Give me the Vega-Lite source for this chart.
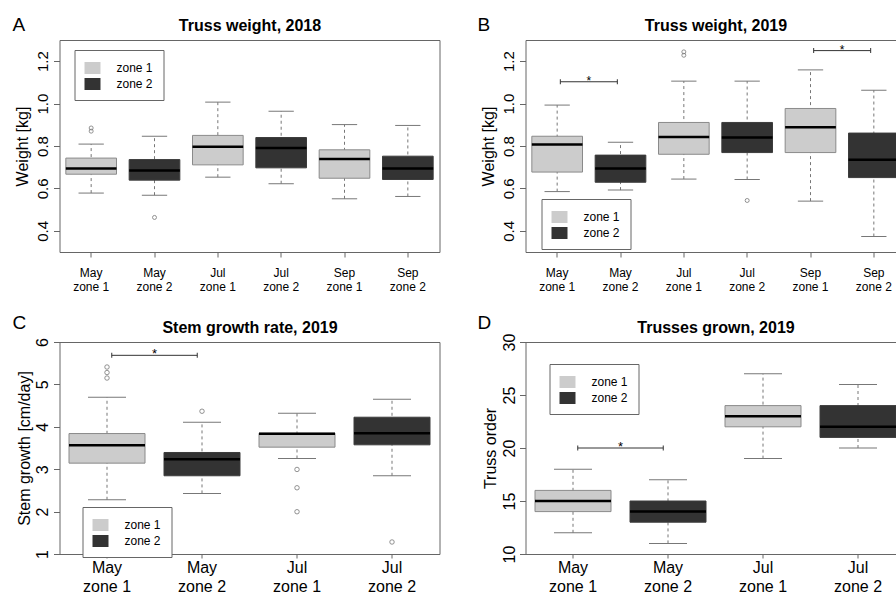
{
"$schema": "https://vega.github.io/schema/vega-lite/v6.json",
"background": "white",
"padding": {"left": 11.5, "top": 15, "right": 0, "bottom": 0},
"datasets": {
"boxes": [
{"panel":"A","grp":"May zone 1","zone":"zone 1","lo":0.578,"q1":0.667,"med":0.694,"q3":0.743,"hi":0.809},
{"panel":"A","grp":"May zone 2","zone":"zone 2","lo":0.568,"q1":0.639,"med":0.684,"q3":0.736,"hi":0.846},
{"panel":"A","grp":"Jul zone 1","zone":"zone 1","lo":0.653,"q1":0.711,"med":0.796,"q3":0.850,"hi":1.007},
{"panel":"A","grp":"Jul zone 2","zone":"zone 2","lo":0.622,"q1":0.697,"med":0.791,"q3":0.840,"hi":0.964},
{"panel":"A","grp":"Sep zone 1","zone":"zone 1","lo":0.551,"q1":0.648,"med":0.739,"q3":0.782,"hi":0.901},
{"panel":"A","grp":"Sep zone 2","zone":"zone 2","lo":0.562,"q1":0.642,"med":0.694,"q3":0.752,"hi":0.897},
{"panel":"B","grp":"May zone 1","zone":"zone 1","lo":0.585,"q1":0.677,"med":0.807,"q3":0.846,"hi":0.993},
{"panel":"B","grp":"May zone 2","zone":"zone 2","lo":0.592,"q1":0.629,"med":0.694,"q3":0.757,"hi":0.818},
{"panel":"B","grp":"Jul zone 1","zone":"zone 1","lo":0.644,"q1":0.761,"med":0.843,"q3":0.911,"hi":1.106},
{"panel":"B","grp":"Jul zone 2","zone":"zone 2","lo":0.642,"q1":0.769,"med":0.840,"q3":0.911,"hi":1.106},
{"panel":"B","grp":"Sep zone 1","zone":"zone 1","lo":0.540,"q1":0.769,"med":0.889,"q3":0.977,"hi":1.159},
{"panel":"B","grp":"Sep zone 2","zone":"zone 2","lo":0.373,"q1":0.651,"med":0.735,"q3":0.861,"hi":1.063},
{"panel":"C","grp":"May zone 1","zone":"zone 1","lo":2.279,"q1":3.143,"med":3.567,"q3":3.841,"hi":4.697},
{"panel":"C","grp":"May zone 2","zone":"zone 2","lo":2.429,"q1":2.845,"med":3.237,"q3":3.394,"hi":4.108},
{"panel":"C","grp":"Jul zone 1","zone":"zone 1","lo":3.253,"q1":3.520,"med":3.834,"q3":3.849,"hi":4.320},
{"panel":"C","grp":"Jul zone 2","zone":"zone 2","lo":2.845,"q1":3.575,"med":3.849,"q3":4.226,"hi":4.650},
{"panel":"D","grp":"May zone 1","zone":"zone 1","lo":12,"q1":14,"med":15,"q3":16,"hi":18},
{"panel":"D","grp":"May zone 2","zone":"zone 2","lo":11,"q1":13,"med":14,"q3":15,"hi":17},
{"panel":"D","grp":"Jul zone 1","zone":"zone 1","lo":19,"q1":22,"med":23,"q3":24,"hi":27},
{"panel":"D","grp":"Jul zone 2","zone":"zone 2","lo":20,"q1":21,"med":22,"q3":24,"hi":26}
],
"outliers": [
{"panel":"A","grp":"May zone 1","val":0.885},
{"panel":"A","grp":"May zone 1","val":0.870},
{"panel":"A","grp":"May zone 2","val":0.463},
{"panel":"B","grp":"Jul zone 1","val":1.244},
{"panel":"B","grp":"Jul zone 1","val":1.228},
{"panel":"B","grp":"Jul zone 2","val":0.543},
{"panel":"C","grp":"May zone 1","val":5.41},
{"panel":"C","grp":"May zone 1","val":5.28},
{"panel":"C","grp":"May zone 1","val":5.15},
{"panel":"C","grp":"May zone 2","val":4.367},
{"panel":"C","grp":"Jul zone 1","val":2.994},
{"panel":"C","grp":"Jul zone 1","val":2.562},
{"panel":"C","grp":"Jul zone 1","val":1.997},
{"panel":"C","grp":"Jul zone 2","val":1.283}
],
"sig": [
{"panel":"B","g1":"May zone 1","g2":"May zone 2","val":1.103},
{"panel":"B","g1":"Sep zone 1","g2":"Sep zone 2","val":1.250},
{"panel":"C","g1":"May zone 1","g2":"May zone 2","val":5.686},
{"panel":"D","g1":"May zone 1","g2":"May zone 2","val":20}
]
},
"columns": 2,
"spacing": {"row": 90, "column": 86},
"bounds": "flush",
"resolve": {"scale": {"fill": "independent", "stroke": "independent"}, "legend": {"fill": "independent", "stroke": "independent"}},
"concat": [
{
"width": 380, "height": 212,
"resolve": {"axis": {"x": "independent", "y": "independent"}},
"layer": [
{"data":{"name":"boxes"},"transform":[{"filter":"datum.panel==='A'"}],
 "mark":{"type":"rule","color":"#777","strokeDash":[3,3],"strokeWidth":1},
 "encoding":{"x":{"field":"grp","type":"nominal","scale":{"domain":["May zone 1","May zone 2","Jul zone 1","Jul zone 2","Sep zone 1","Sep zone 2"],"paddingInner":0,"paddingOuter":0},"axis":null},
  "y":{"field":"lo","type":"quantitative","scale":{"domain":[0.3,1.3],"nice":false,"zero":false},"axis":null},"y2":{"field":"hi"}}},
{"data":{"name":"boxes"},"transform":[{"filter":"datum.panel==='A'"}],
 "mark":{"type":"tick","color":"#777","size":25.3,"thickness":1,"opacity":1},
 "encoding":{"x":{"field":"grp","type":"nominal","scale":{"domain":["May zone 1","May zone 2","Jul zone 1","Jul zone 2","Sep zone 1","Sep zone 2"],"paddingInner":0,"paddingOuter":0},"axis":null},
  "y":{"field":"hi","type":"quantitative","scale":{"domain":[0.3,1.3],"nice":false,"zero":false},"axis":null}}},
{"data":{"name":"boxes"},"transform":[{"filter":"datum.panel==='A'"}],
 "mark":{"type":"tick","color":"#777","size":25.3,"thickness":1,"opacity":1},
 "encoding":{"x":{"field":"grp","type":"nominal","scale":{"domain":["May zone 1","May zone 2","Jul zone 1","Jul zone 2","Sep zone 1","Sep zone 2"],"paddingInner":0,"paddingOuter":0},"axis":null},
  "y":{"field":"lo","type":"quantitative","scale":{"domain":[0.3,1.3],"nice":false,"zero":false},"axis":null}}},
{"data":{"name":"boxes"},"transform":[{"filter":"datum.panel==='A'"}],
 "mark":{"type":"bar","width":{"band":0.8},"strokeWidth":1},
 "encoding":{
  "x":{"field":"grp","type":"nominal","scale":{"domain":["May zone 1","May zone 2","Jul zone 1","Jul zone 2","Sep zone 1","Sep zone 2"],"paddingInner":0,"paddingOuter":0},
   "axis":{"orient":"bottom","title":null,"labelExpr":"[slice(datum.value,0,3), slice(datum.value,4)]","labelAngle":0,"labelAlign":"center","labelBaseline":"top","labelFontSize":12,"labelLineHeight":14,"labelPadding":10,"tickSize":5}},
  "y":{"field":"q1","type":"quantitative","scale":{"domain":[0.3,1.3],"nice":false,"zero":false},
   "axis":{"orient":"left","title":"Weight [kg]","values":[0.4,0.6,0.8,1.0,1.2],"format":".1f","labelAngle":-90,"labelAlign":"center","labelBaseline":"alphabetic","labelFontSize":15,"labelPadding":6,"tickSize":6,"titleFontSize":16,"titleAngle":-90,"titleAlign":"center","titleBaseline":"alphabetic","titleX":-32,"titleY":106}},
  "y2":{"field":"q3"},
  "fill":{"field":"zone","type":"nominal","scale":{"domain":["zone 1","zone 2"],"range":["#cccccc","#333333"]},"legend":{"title":null,"legendX":15,"legendY":10}},
  "stroke":{"field":"zone","type":"nominal","scale":{"domain":["zone 1","zone 2"],"range":["#8a8a8a","#3c3c3c"]},"legend":null}}},
{"data":{"name":"boxes"},"transform":[{"filter":"datum.panel==='A'"}],
 "mark":{"type":"tick","color":"#000","size":50.7,"thickness":2.5,"opacity":1},
 "encoding":{
  "x":{"field":"grp","type":"nominal","scale":{"domain":["May zone 1","May zone 2","Jul zone 1","Jul zone 2","Sep zone 1","Sep zone 2"],"paddingInner":0,"paddingOuter":0},
   "axis":{"orient":"top","title":"Truss weight, 2018","labels":false,"ticks":false,"titleFontSize":16,"titleFontWeight":"bold","titleX":190,"titleY":-9.5,"titleAlign":"center","titleBaseline":"alphabetic"}},
  "y":{"field":"med","type":"quantitative","scale":{"domain":[0.3,1.3],"nice":false,"zero":false},
   "axis":{"orient":"right","title":"A","labels":false,"ticks":false,"titleFontSize":19,"titleAngle":0,"titleAlign":"left","titleBaseline":"alphabetic","titleX":-427.5,"titleY":-9.3}}}},
{"data":{"name":"outliers"},"transform":[{"filter":"datum.panel==='A'"}],
 "mark":{"type":"point","shape":"circle","filled":false,"size":16,"color":"#777","strokeWidth":0.8,"opacity":1},
 "encoding":{"x":{"field":"grp","type":"nominal","scale":{"domain":["May zone 1","May zone 2","Jul zone 1","Jul zone 2","Sep zone 1","Sep zone 2"],"paddingInner":0,"paddingOuter":0},"axis":null},
  "y":{"field":"val","type":"quantitative","scale":{"domain":[0.3,1.3],"nice":false,"zero":false},"axis":null}}}
]
},
{
"width": 380, "height": 212,
"resolve": {"axis": {"x": "independent", "y": "independent"}},
"layer": [
{"data":{"name":"boxes"},"transform":[{"filter":"datum.panel==='B'"}],
 "mark":{"type":"rule","color":"#777","strokeDash":[3,3],"strokeWidth":1},
 "encoding":{"x":{"field":"grp","type":"nominal","scale":{"domain":["May zone 1","May zone 2","Jul zone 1","Jul zone 2","Sep zone 1","Sep zone 2"],"paddingInner":0,"paddingOuter":0},"axis":null},
  "y":{"field":"lo","type":"quantitative","scale":{"domain":[0.3,1.3],"nice":false,"zero":false},"axis":null},"y2":{"field":"hi"}}},
{"data":{"name":"boxes"},"transform":[{"filter":"datum.panel==='B'"}],
 "mark":{"type":"tick","color":"#777","size":25.3,"thickness":1,"opacity":1},
 "encoding":{"x":{"field":"grp","type":"nominal","scale":{"domain":["May zone 1","May zone 2","Jul zone 1","Jul zone 2","Sep zone 1","Sep zone 2"],"paddingInner":0,"paddingOuter":0},"axis":null},
  "y":{"field":"hi","type":"quantitative","scale":{"domain":[0.3,1.3],"nice":false,"zero":false},"axis":null}}},
{"data":{"name":"boxes"},"transform":[{"filter":"datum.panel==='B'"}],
 "mark":{"type":"tick","color":"#777","size":25.3,"thickness":1,"opacity":1},
 "encoding":{"x":{"field":"grp","type":"nominal","scale":{"domain":["May zone 1","May zone 2","Jul zone 1","Jul zone 2","Sep zone 1","Sep zone 2"],"paddingInner":0,"paddingOuter":0},"axis":null},
  "y":{"field":"lo","type":"quantitative","scale":{"domain":[0.3,1.3],"nice":false,"zero":false},"axis":null}}},
{"data":{"name":"boxes"},"transform":[{"filter":"datum.panel==='B'"}],
 "mark":{"type":"bar","width":{"band":0.8},"strokeWidth":1},
 "encoding":{
  "x":{"field":"grp","type":"nominal","scale":{"domain":["May zone 1","May zone 2","Jul zone 1","Jul zone 2","Sep zone 1","Sep zone 2"],"paddingInner":0,"paddingOuter":0},
   "axis":{"orient":"bottom","title":null,"labelExpr":"[slice(datum.value,0,3), slice(datum.value,4)]","labelAngle":0,"labelAlign":"center","labelBaseline":"top","labelFontSize":12,"labelLineHeight":14,"labelPadding":10,"tickSize":5}},
  "y":{"field":"q1","type":"quantitative","scale":{"domain":[0.3,1.3],"nice":false,"zero":false},
   "axis":{"orient":"left","title":"Weight [kg]","values":[0.4,0.6,0.8,1.0,1.2],"format":".1f","labelAngle":-90,"labelAlign":"center","labelBaseline":"alphabetic","labelFontSize":15,"labelPadding":6,"tickSize":6,"titleFontSize":16,"titleAngle":-90,"titleAlign":"center","titleBaseline":"alphabetic","titleX":-32,"titleY":106}},
  "y2":{"field":"q3"},
  "fill":{"field":"zone","type":"nominal","scale":{"domain":["zone 1","zone 2"],"range":["#cccccc","#333333"]},"legend":{"title":null,"legendX":16,"legendY":159}},
  "stroke":{"field":"zone","type":"nominal","scale":{"domain":["zone 1","zone 2"],"range":["#8a8a8a","#3c3c3c"]},"legend":null}}},
{"data":{"name":"boxes"},"transform":[{"filter":"datum.panel==='B'"}],
 "mark":{"type":"tick","color":"#000","size":50.7,"thickness":2.5,"opacity":1},
 "encoding":{
  "x":{"field":"grp","type":"nominal","scale":{"domain":["May zone 1","May zone 2","Jul zone 1","Jul zone 2","Sep zone 1","Sep zone 2"],"paddingInner":0,"paddingOuter":0},
   "axis":{"orient":"top","title":"Truss weight, 2019","labels":false,"ticks":false,"titleFontSize":16,"titleFontWeight":"bold","titleX":190,"titleY":-9.5,"titleAlign":"center","titleBaseline":"alphabetic"}},
  "y":{"field":"med","type":"quantitative","scale":{"domain":[0.3,1.3],"nice":false,"zero":false},
   "axis":{"orient":"right","title":"B","labels":false,"ticks":false,"titleFontSize":19,"titleAngle":0,"titleAlign":"left","titleBaseline":"alphabetic","titleX":-428.5,"titleY":-9.3}}}},
{"data":{"name":"outliers"},"transform":[{"filter":"datum.panel==='B'"}],
 "mark":{"type":"point","shape":"circle","filled":false,"size":16,"color":"#777","strokeWidth":0.8,"opacity":1},
 "encoding":{"x":{"field":"grp","type":"nominal","scale":{"domain":["May zone 1","May zone 2","Jul zone 1","Jul zone 2","Sep zone 1","Sep zone 2"],"paddingInner":0,"paddingOuter":0},"axis":null},
  "y":{"field":"val","type":"quantitative","scale":{"domain":[0.3,1.3],"nice":false,"zero":false},"axis":null}}},
{"data":{"name":"sig"},"transform":[{"filter":"datum.panel==='B'"}],
 "mark":{"type":"rule","color":"#333","strokeWidth":1},
 "encoding":{"x":{"field":"g1","type":"nominal","bandPosition":0.55,"scale":{"domain":["May zone 1","May zone 2","Jul zone 1","Jul zone 2","Sep zone 1","Sep zone 2"],"paddingInner":0,"paddingOuter":0},"axis":null},
  "x2":{"field":"g2","bandPosition":0.45},
  "y":{"field":"val","type":"quantitative","scale":{"domain":[0.3,1.3],"nice":false,"zero":false},"axis":null}}},
{"data":{"name":"sig"},"transform":[{"filter":"datum.panel==='B'"}],
 "mark":{"type":"tick","orient":"vertical","color":"#333","size":5,"thickness":1,"opacity":1},
 "encoding":{"x":{"field":"g1","type":"nominal","bandPosition":0.55,"scale":{"domain":["May zone 1","May zone 2","Jul zone 1","Jul zone 2","Sep zone 1","Sep zone 2"],"paddingInner":0,"paddingOuter":0},"axis":null},
  "y":{"field":"val","type":"quantitative","scale":{"domain":[0.3,1.3],"nice":false,"zero":false},"axis":null}}},
{"data":{"name":"sig"},"transform":[{"filter":"datum.panel==='B'"}],
 "mark":{"type":"tick","orient":"vertical","color":"#333","size":5,"thickness":1,"opacity":1},
 "encoding":{"x":{"field":"g2","type":"nominal","bandPosition":0.45,"scale":{"domain":["May zone 1","May zone 2","Jul zone 1","Jul zone 2","Sep zone 1","Sep zone 2"],"paddingInner":0,"paddingOuter":0},"axis":null},
  "y":{"field":"val","type":"quantitative","scale":{"domain":[0.3,1.3],"nice":false,"zero":false},"axis":null}}},
{"data":{"name":"sig"},"transform":[{"filter":"datum.panel==='B'"}],
 "mark":{"type":"text","text":"*","fontSize":12,"baseline":"alphabetic","dy":3,"color":"#000"},
 "encoding":{"x":{"field":"g1","type":"nominal","bandPosition":1,"scale":{"domain":["May zone 1","May zone 2","Jul zone 1","Jul zone 2","Sep zone 1","Sep zone 2"],"paddingInner":0,"paddingOuter":0},"axis":null},
  "y":{"field":"val","type":"quantitative","scale":{"domain":[0.3,1.3],"nice":false,"zero":false},"axis":null}}}
]
},
{
"width": 380, "height": 212,
"resolve": {"axis": {"x": "independent", "y": "independent"}},
"layer": [
{"data":{"name":"boxes"},"transform":[{"filter":"datum.panel==='C'"}],
 "mark":{"type":"rule","color":"#777","strokeDash":[3,3],"strokeWidth":1},
 "encoding":{"x":{"field":"grp","type":"nominal","scale":{"domain":["May zone 1","May zone 2","Jul zone 1","Jul zone 2"],"paddingInner":0,"paddingOuter":0},"axis":null},
  "y":{"field":"lo","type":"quantitative","scale":{"domain":[1,6],"nice":false,"zero":false},"axis":null},"y2":{"field":"hi"}}},
{"data":{"name":"boxes"},"transform":[{"filter":"datum.panel==='C'"}],
 "mark":{"type":"tick","color":"#777","size":38,"thickness":1,"opacity":1},
 "encoding":{"x":{"field":"grp","type":"nominal","scale":{"domain":["May zone 1","May zone 2","Jul zone 1","Jul zone 2"],"paddingInner":0,"paddingOuter":0},"axis":null},
  "y":{"field":"hi","type":"quantitative","scale":{"domain":[1,6],"nice":false,"zero":false},"axis":null}}},
{"data":{"name":"boxes"},"transform":[{"filter":"datum.panel==='C'"}],
 "mark":{"type":"tick","color":"#777","size":38,"thickness":1,"opacity":1},
 "encoding":{"x":{"field":"grp","type":"nominal","scale":{"domain":["May zone 1","May zone 2","Jul zone 1","Jul zone 2"],"paddingInner":0,"paddingOuter":0},"axis":null},
  "y":{"field":"lo","type":"quantitative","scale":{"domain":[1,6],"nice":false,"zero":false},"axis":null}}},
{"data":{"name":"boxes"},"transform":[{"filter":"datum.panel==='C'"}],
 "mark":{"type":"bar","width":{"band":0.8},"strokeWidth":1},
 "encoding":{
  "x":{"field":"grp","type":"nominal","scale":{"domain":["May zone 1","May zone 2","Jul zone 1","Jul zone 2"],"paddingInner":0,"paddingOuter":0},
   "axis":{"orient":"bottom","title":null,"labelExpr":"[slice(datum.value,0,3), slice(datum.value,4)]","labelAngle":0,"labelAlign":"center","labelBaseline":"top","labelFontSize":16,"labelLineHeight":19,"labelPadding":1,"tickSize":4}},
  "y":{"field":"q1","type":"quantitative","scale":{"domain":[1,6],"nice":false,"zero":false},
   "axis":{"orient":"left","title":"Stem growth [cm/day]","values":[1,2,3,4,5,6],"format":"d","labelAngle":-90,"labelAlign":"center","labelBaseline":"alphabetic","labelFontSize":16,"labelPadding":6,"tickSize":6,"titleFontSize":16,"titleAngle":-90,"titleAlign":"center","titleBaseline":"alphabetic","titleX":-30,"titleY":106}},
  "y2":{"field":"q3"},
  "fill":{"field":"zone","type":"nominal","scale":{"domain":["zone 1","zone 2"],"range":["#cccccc","#333333"]},"legend":{"title":null,"legendX":23,"legendY":165}},
  "stroke":{"field":"zone","type":"nominal","scale":{"domain":["zone 1","zone 2"],"range":["#8a8a8a","#3c3c3c"]},"legend":null}}},
{"data":{"name":"boxes"},"transform":[{"filter":"datum.panel==='C'"}],
 "mark":{"type":"tick","color":"#000","size":76,"thickness":2.5,"opacity":1},
 "encoding":{
  "x":{"field":"grp","type":"nominal","scale":{"domain":["May zone 1","May zone 2","Jul zone 1","Jul zone 2"],"paddingInner":0,"paddingOuter":0},
   "axis":{"orient":"top","title":"Stem growth rate, 2019","labels":false,"ticks":false,"titleFontSize":16,"titleFontWeight":"bold","titleX":190,"titleY":-10,"titleAlign":"center","titleBaseline":"alphabetic"}},
  "y":{"field":"med","type":"quantitative","scale":{"domain":[1,6],"nice":false,"zero":false},
   "axis":{"orient":"right","title":"C","labels":false,"ticks":false,"titleFontSize":19,"titleAngle":0,"titleAlign":"left","titleBaseline":"alphabetic","titleX":-427.5,"titleY":-13.5}}}},
{"data":{"name":"outliers"},"transform":[{"filter":"datum.panel==='C'"}],
 "mark":{"type":"point","shape":"circle","filled":false,"size":20,"color":"#777","strokeWidth":0.8,"opacity":1},
 "encoding":{"x":{"field":"grp","type":"nominal","scale":{"domain":["May zone 1","May zone 2","Jul zone 1","Jul zone 2"],"paddingInner":0,"paddingOuter":0},"axis":null},
  "y":{"field":"val","type":"quantitative","scale":{"domain":[1,6],"nice":false,"zero":false},"axis":null}}},
{"data":{"name":"sig"},"transform":[{"filter":"datum.panel==='C'"}],
 "mark":{"type":"rule","color":"#333","strokeWidth":1},
 "encoding":{"x":{"field":"g1","type":"nominal","bandPosition":0.55,"scale":{"domain":["May zone 1","May zone 2","Jul zone 1","Jul zone 2"],"paddingInner":0,"paddingOuter":0},"axis":null},
  "x2":{"field":"g2","bandPosition":0.45},
  "y":{"field":"val","type":"quantitative","scale":{"domain":[1,6],"nice":false,"zero":false},"axis":null}}},
{"data":{"name":"sig"},"transform":[{"filter":"datum.panel==='C'"}],
 "mark":{"type":"tick","orient":"vertical","color":"#333","size":5,"thickness":1,"opacity":1},
 "encoding":{"x":{"field":"g1","type":"nominal","bandPosition":0.55,"scale":{"domain":["May zone 1","May zone 2","Jul zone 1","Jul zone 2"],"paddingInner":0,"paddingOuter":0},"axis":null},
  "y":{"field":"val","type":"quantitative","scale":{"domain":[1,6],"nice":false,"zero":false},"axis":null}}},
{"data":{"name":"sig"},"transform":[{"filter":"datum.panel==='C'"}],
 "mark":{"type":"tick","orient":"vertical","color":"#333","size":5,"thickness":1,"opacity":1},
 "encoding":{"x":{"field":"g2","type":"nominal","bandPosition":0.45,"scale":{"domain":["May zone 1","May zone 2","Jul zone 1","Jul zone 2"],"paddingInner":0,"paddingOuter":0},"axis":null},
  "y":{"field":"val","type":"quantitative","scale":{"domain":[1,6],"nice":false,"zero":false},"axis":null}}},
{"data":{"name":"sig"},"transform":[{"filter":"datum.panel==='C'"}],
 "mark":{"type":"text","text":"*","fontSize":13,"baseline":"alphabetic","dy":3,"color":"#000"},
 "encoding":{"x":{"field":"g1","type":"nominal","bandPosition":1,"scale":{"domain":["May zone 1","May zone 2","Jul zone 1","Jul zone 2"],"paddingInner":0,"paddingOuter":0},"axis":null},
  "y":{"field":"val","type":"quantitative","scale":{"domain":[1,6],"nice":false,"zero":false},"axis":null}}}
]
},
{
"width": 380, "height": 212,
"resolve": {"axis": {"x": "independent", "y": "independent"}},
"layer": [
{"data":{"name":"boxes"},"transform":[{"filter":"datum.panel==='D'"}],
 "mark":{"type":"rule","color":"#777","strokeDash":[3,3],"strokeWidth":1},
 "encoding":{"x":{"field":"grp","type":"nominal","scale":{"domain":["May zone 1","May zone 2","Jul zone 1","Jul zone 2"],"paddingInner":0,"paddingOuter":0},"axis":null},
  "y":{"field":"lo","type":"quantitative","scale":{"domain":[10,30],"nice":false,"zero":false},"axis":null},"y2":{"field":"hi"}}},
{"data":{"name":"boxes"},"transform":[{"filter":"datum.panel==='D'"}],
 "mark":{"type":"tick","color":"#777","size":38,"thickness":1,"opacity":1},
 "encoding":{"x":{"field":"grp","type":"nominal","scale":{"domain":["May zone 1","May zone 2","Jul zone 1","Jul zone 2"],"paddingInner":0,"paddingOuter":0},"axis":null},
  "y":{"field":"hi","type":"quantitative","scale":{"domain":[10,30],"nice":false,"zero":false},"axis":null}}},
{"data":{"name":"boxes"},"transform":[{"filter":"datum.panel==='D'"}],
 "mark":{"type":"tick","color":"#777","size":38,"thickness":1,"opacity":1},
 "encoding":{"x":{"field":"grp","type":"nominal","scale":{"domain":["May zone 1","May zone 2","Jul zone 1","Jul zone 2"],"paddingInner":0,"paddingOuter":0},"axis":null},
  "y":{"field":"lo","type":"quantitative","scale":{"domain":[10,30],"nice":false,"zero":false},"axis":null}}},
{"data":{"name":"boxes"},"transform":[{"filter":"datum.panel==='D'"}],
 "mark":{"type":"bar","width":{"band":0.8},"strokeWidth":1},
 "encoding":{
  "x":{"field":"grp","type":"nominal","scale":{"domain":["May zone 1","May zone 2","Jul zone 1","Jul zone 2"],"paddingInner":0,"paddingOuter":0},
   "axis":{"orient":"bottom","title":null,"labelExpr":"[slice(datum.value,0,3), slice(datum.value,4)]","labelAngle":0,"labelAlign":"center","labelBaseline":"top","labelFontSize":16,"labelLineHeight":19,"labelPadding":1,"tickSize":4}},
  "y":{"field":"q1","type":"quantitative","scale":{"domain":[10,30],"nice":false,"zero":false},
   "axis":{"orient":"left","title":"Truss order","values":[10,15,20,25,30],"format":"d","labelAngle":-90,"labelAlign":"center","labelBaseline":"alphabetic","labelFontSize":16,"labelPadding":5.5,"tickSize":6,"titleFontSize":16,"titleAngle":-90,"titleAlign":"center","titleBaseline":"alphabetic","titleX":-30.5,"titleY":106}},
  "y2":{"field":"q3"},
  "fill":{"field":"zone","type":"nominal","scale":{"domain":["zone 1","zone 2"],"range":["#cccccc","#333333"]},"legend":{"title":null,"legendX":24,"legendY":22}},
  "stroke":{"field":"zone","type":"nominal","scale":{"domain":["zone 1","zone 2"],"range":["#8a8a8a","#3c3c3c"]},"legend":null}}},
{"data":{"name":"boxes"},"transform":[{"filter":"datum.panel==='D'"}],
 "mark":{"type":"tick","color":"#000","size":76,"thickness":2.5,"opacity":1},
 "encoding":{
  "x":{"field":"grp","type":"nominal","scale":{"domain":["May zone 1","May zone 2","Jul zone 1","Jul zone 2"],"paddingInner":0,"paddingOuter":0},
   "axis":{"orient":"top","title":"Trusses grown, 2019","labels":false,"ticks":false,"titleFontSize":16,"titleFontWeight":"bold","titleX":190,"titleY":-10,"titleAlign":"center","titleBaseline":"alphabetic"}},
  "y":{"field":"med","type":"quantitative","scale":{"domain":[10,30],"nice":false,"zero":false},
   "axis":{"orient":"right","title":"D","labels":false,"ticks":false,"titleFontSize":19,"titleAngle":0,"titleAlign":"left","titleBaseline":"alphabetic","titleX":-428.5,"titleY":-13.5}}}},
{"data":{"name":"sig"},"transform":[{"filter":"datum.panel==='D'"}],
 "mark":{"type":"rule","color":"#333","strokeWidth":1},
 "encoding":{"x":{"field":"g1","type":"nominal","bandPosition":0.55,"scale":{"domain":["May zone 1","May zone 2","Jul zone 1","Jul zone 2"],"paddingInner":0,"paddingOuter":0},"axis":null},
  "x2":{"field":"g2","bandPosition":0.45},
  "y":{"field":"val","type":"quantitative","scale":{"domain":[10,30],"nice":false,"zero":false},"axis":null}}},
{"data":{"name":"sig"},"transform":[{"filter":"datum.panel==='D'"}],
 "mark":{"type":"tick","orient":"vertical","color":"#333","size":5,"thickness":1,"opacity":1},
 "encoding":{"x":{"field":"g1","type":"nominal","bandPosition":0.55,"scale":{"domain":["May zone 1","May zone 2","Jul zone 1","Jul zone 2"],"paddingInner":0,"paddingOuter":0},"axis":null},
  "y":{"field":"val","type":"quantitative","scale":{"domain":[10,30],"nice":false,"zero":false},"axis":null}}},
{"data":{"name":"sig"},"transform":[{"filter":"datum.panel==='D'"}],
 "mark":{"type":"tick","orient":"vertical","color":"#333","size":5,"thickness":1,"opacity":1},
 "encoding":{"x":{"field":"g2","type":"nominal","bandPosition":0.45,"scale":{"domain":["May zone 1","May zone 2","Jul zone 1","Jul zone 2"],"paddingInner":0,"paddingOuter":0},"axis":null},
  "y":{"field":"val","type":"quantitative","scale":{"domain":[10,30],"nice":false,"zero":false},"axis":null}}},
{"data":{"name":"sig"},"transform":[{"filter":"datum.panel==='D'"}],
 "mark":{"type":"text","text":"*","fontSize":13,"baseline":"alphabetic","dy":3,"color":"#000"},
 "encoding":{"x":{"field":"g1","type":"nominal","bandPosition":1,"scale":{"domain":["May zone 1","May zone 2","Jul zone 1","Jul zone 2"],"paddingInner":0,"paddingOuter":0},"axis":null},
  "y":{"field":"val","type":"quantitative","scale":{"domain":[10,30],"nice":false,"zero":false},"axis":null}}}
]
}
],
"config": {
 "font": "Liberation Sans",
 "view": {"stroke": "#666", "strokeWidth": 1},
 "axis": {"grid": false, "domain": false, "tickColor": "#666", "tickWidth": 1, "labelColor": "#000", "titleColor": "#000", "titleFontWeight": "normal", "labelFont": "Liberation Sans", "titleFont": "Liberation Sans", "labelOverlap": false},
 "legend": {"orient": "none", "padding": 10, "strokeColor": "#666", "fillColor": "#ffffff", "symbolType": "M-1,-0.75H1V0.75H-1Z", "symbolSize": 256, "symbolStrokeWidth": 0, "symbolOpacity": 1, "labelFontSize": 12, "labelOffset": 16, "rowPadding": 2, "labelColor": "#000", "labelFont": "Liberation Sans"}
}
}
